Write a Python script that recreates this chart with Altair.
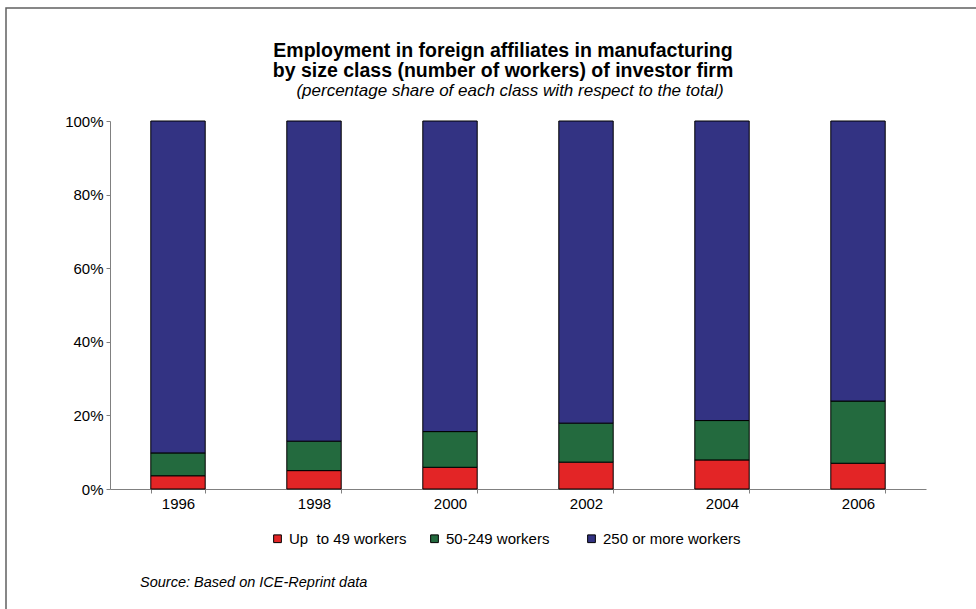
import altair as alt
import pandas as pd

# Employment shares (%) by size class of the investor firm
years = ["1996", "1998", "2000", "2002", "2004", "2006"]
classes = ["Up\u00a0 to 49 workers", "50-249 workers", "250 or more workers"]
small = [3.6, 5.0, 5.9, 7.3, 7.9, 7.0]
medium = [6.2, 8.0, 9.7, 10.6, 10.7, 16.9]
large = [round(100 - s - m, 1) for s, m in zip(small, medium)]
colors = ["#E32526", "#236A3E", "#333383"]

rows = []
for i, y in enumerate(years):
    for k, (cls, vals) in enumerate(zip(classes, [small, medium, large])):
        rows.append({"year": y, "cls": cls, "order": k, "share": vals[i]})
df = pd.DataFrame(rows)

FONT = "Liberation Sans"
W, H = 816, 368

bars = alt.Chart(df).mark_bar(stroke="black", strokeWidth=1).encode(
    x=alt.X("year:N", sort=years, title=None,
            scale=alt.Scale(paddingInner=0.6, paddingOuter=0.3),
            axis=alt.Axis(labelAngle=0, tickBand="extent", tickSize=4,
                          labelPadding=3, domainColor="#808080",
                          tickColor="#808080", labelFont=FONT,
                          labelFontSize=15, labelColor="black")),
    y=alt.Y("share:Q", stack="zero", title=None,
            scale=alt.Scale(domain=[0, 100], nice=False),
            axis=alt.Axis(values=[0, 20, 40, 60, 80, 100],
                          labelExpr="datum.value + '%'", grid=False,
                          tickSize=4, labelPadding=3, domainColor="#808080",
                          tickColor="#808080", labelFont=FONT,
                          labelFontSize=15, labelColor="black")),
    color=alt.Color("cls:N", sort=classes,
                    scale=alt.Scale(domain=classes, range=colors),
                    legend=alt.Legend(title=None, orient="none",
                                      direction="horizontal", columns=3,
                                      gridAlign="all", columnPadding=0,
                                      legendX=160, legendY=410,
                                      symbolType="square", symbolSize=60,
                                      symbolStrokeColor="black",
                                      symbolStrokeWidth=1,
                                      symbolOpacity=1, labelOffset=4,
                                      labelFont=FONT, labelFontSize=15,
                                      labelColor="black", labelLimit=300)),
    order=alt.Order("order:Q", sort="ascending"),
)

titles = pd.DataFrame({
    "text": ["Employment in foreign affiliates in manufacturing",
             "by size class (number of workers) of investor firm"],
    "ty": [-70, -50],
})
title_marks = alt.Chart(titles).mark_text(
    font=FONT, fontSize=19.5, fontWeight="bold", color="black",
    align="center", baseline="middle",
).encode(x=alt.value(393), y=alt.Y("ty:Q", scale=None), text="text:N")

subtitle = alt.Chart(pd.DataFrame({"t": ["(percentage share of each class with respect to the total)"]})).mark_text(
    font=FONT, fontSize=17, fontStyle="italic", color="black",
    align="center", baseline="middle",
).encode(x=alt.value(400), y=alt.value(-30), text="t:N")

source = alt.Chart(pd.DataFrame({"t": ["Source: Based on ICE-Reprint data"]})).mark_text(
    font=FONT, fontSize=14.5, fontStyle="italic", color="black",
    align="left", baseline="middle",
).encode(x=alt.value(30), y=alt.value(462), text="t:N")

frame = alt.Chart(pd.DataFrame({"a": [0]})).mark_rect(
    fill=None, stroke="#606060", strokeWidth=1.5,
).encode(x=alt.value(-104), x2=alt.value(900), y=alt.value(-113), y2=alt.value(600))

chart = alt.layer(frame, bars, title_marks, subtitle, source).properties(
    width=W, height=H,
    autosize=alt.AutoSizeParams(type="none"),
    padding={"left": 110, "top": 121, "right": 50, "bottom": 120},
    background="white",
).configure_view(stroke=None)

chart.save("out.html", embed_options={"renderer": "svg", "actions": False})
